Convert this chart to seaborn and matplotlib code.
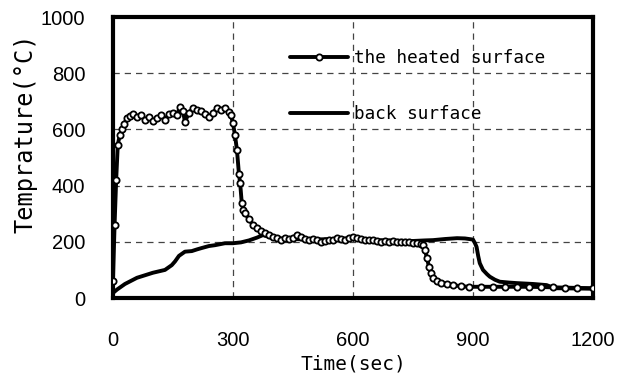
import numpy as np
import pandas as pd
import seaborn as sns
import matplotlib
matplotlib.use("Agg")
import matplotlib.pyplot as plt

# heated surface (sec, degC)
heated_time = [0, 4, 8, 12, 17, 22, 28, 35, 42, 50, 60, 70, 80, 90, 100, 110, 120, 130, 140, 150,
               160, 167, 175, 180, 190, 200, 210, 220, 230, 240, 250, 260, 270, 280, 290, 295, 300,
               305, 310, 315, 318, 322, 326, 330, 340, 350, 360, 370, 380, 390, 400, 410, 420, 430,
               440, 450, 460, 470, 480, 490, 500, 510, 520, 530, 540, 550, 560, 570, 580, 590, 600,
               610, 620, 630, 640, 650, 660, 670, 680, 690, 700, 710, 720, 730, 740, 750, 760, 770,
               775, 780, 785, 790, 795, 800, 810, 820, 835, 850, 870, 890, 920, 950, 980, 1010,
               1040, 1070, 1100, 1130, 1160, 1200]
heated_temp = [60, 260, 420, 545, 580, 600, 620, 640, 648, 655, 645, 650, 635, 645, 630, 640, 650, 635, 655, 660,
               650, 680, 665, 627, 660, 675, 670, 665, 655, 645, 660, 675, 670, 675, 663, 650, 622,
               580, 526, 440, 408, 338, 315, 303, 280, 260, 250, 240, 232, 225, 218, 212, 208, 212,
               210, 215, 225, 218, 210, 205, 210, 205, 200, 202, 205, 208, 212, 210, 206, 212, 216,
               212, 210, 208, 205, 206, 203, 200, 202, 200, 203, 198, 200, 200, 198, 197, 195, 193,
               188, 170, 142, 111, 89, 71, 60, 55, 50, 46, 42, 40, 40, 40, 40, 40,
               40, 39, 38, 37, 36, 35]

# back surface (sec, degC)
back_time = [0, 10, 30, 60, 100, 130, 147, 155, 165, 180, 197, 210, 222, 240, 255, 280, 300, 320,
             340, 360, 375, 390, 400, 450, 500, 550, 600, 650, 700, 750, 780, 800, 830, 860, 880,
             900, 905, 909, 913, 917, 925, 935, 942, 955, 967, 990, 1010, 1050, 1084, 1095, 1100,
             1150, 1200]
back_temp = [18, 30, 50, 72, 90, 100, 117, 130, 150, 165, 167, 173, 178, 185, 188, 195, 195, 198,
             205, 215, 224, 218, 212, 210, 208, 210, 212, 206, 204, 203, 205, 206, 210, 213, 212,
             208, 195, 182, 150, 124, 100, 85, 76, 65, 58, 55, 53, 50, 46, 40, 35,
             34, 33]

x_ticks = [0, 300, 600, 900, 1200]
y_ticks = [0, 200, 400, 600, 800, 1000]


def main():
    sns.set_style("white")
    plt.rcParams['font.family'] = ['Liberation Sans', 'DejaVu Sans']
    for key in ["text.color", "axes.labelcolor", "xtick.color", "ytick.color"]:
        plt.rcParams[key] = "black"

    df_heated = pd.DataFrame({"time": heated_time, "temp": heated_temp})
    df_back = pd.DataFrame({"time": back_time, "temp": back_temp})

    fig = plt.figure(figsize=(6.18, 3.76), dpi=100)
    ax = fig.add_axes([0.1828, 0.2074, 0.7767, 0.7473])

    sns.lineplot(data=df_heated, x="time", y="temp", ax=ax, color="black", lw=2.8,
                 marker="o", markersize=4.5, markerfacecolor="white", markeredgecolor="black",
                 markeredgewidth=1.3, label="the heated surface", zorder=3)
    sns.lineplot(data=df_back, x="time", y="temp", ax=ax, color="black", lw=2.8,
                 label="back surface", zorder=2)

    ax.set_xlim(0, 1200)
    ax.set_ylim(0, 1000)
    ax.set_xticks(x_ticks)
    ax.set_yticks(y_ticks)
    ax.tick_params(axis="both", length=0, labelsize=14.5, labelcolor="black")
    ax.tick_params(axis="x", pad=24)
    ax.tick_params(axis="y", pad=20)

    ax.grid(True, linestyle=(0, (5, 4)), color="#444444", lw=0.9)
    ax.set_axisbelow(True)
    for sp in ax.spines.values():
        sp.set_linewidth(3)
        sp.set_color("black")

    mono = ['DejaVu Sans Mono', 'Noto Sans CJK JP']
    ax.set_xlabel("Time(sec)", family=mono, fontsize=14)
    ax.xaxis.set_label_coords(0.5, -0.2)
    ax.set_ylabel("Temprature(°C)", family=mono, fontsize=17)
    ax.yaxis.set_label_coords(-0.158, 0.587)

    ax.legend(loc="upper left", bbox_to_anchor=(290 / 618, 1 - 49 / 376),
              bbox_transform=fig.transFigure, frameon=False, borderpad=0,
              borderaxespad=0, numpoints=1, handlelength=3.3, handletextpad=0.35,
              labelspacing=2.15, prop={"family": mono, "size": 12.7})

    plt.savefig("out.png", dpi=100)


if __name__ == "__main__":
    main()
